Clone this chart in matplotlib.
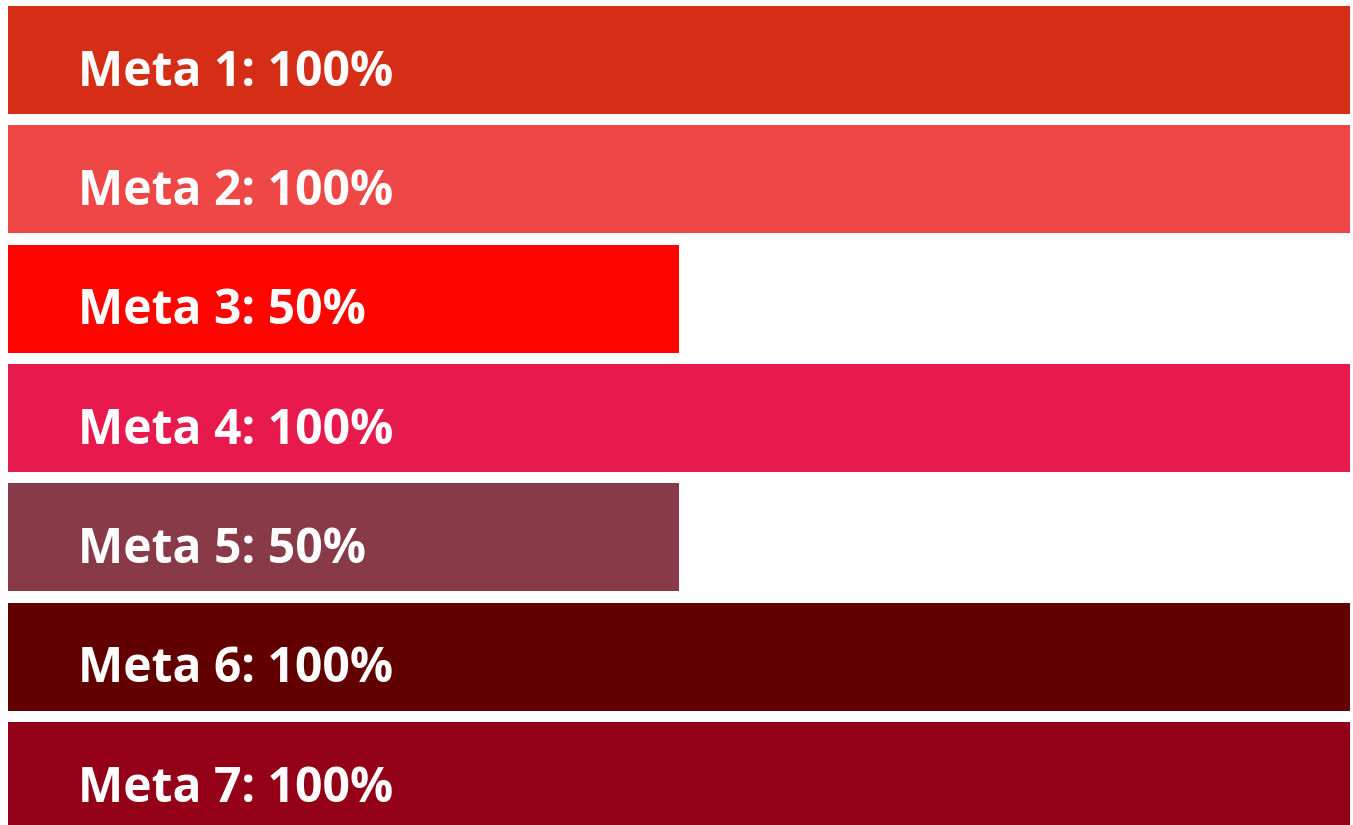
import matplotlib
matplotlib.use('Agg')
import matplotlib.pyplot as plt

# datos
metas = ['Meta 1', 'Meta 2', 'Meta 3', 'Meta 4', 'Meta 5', 'Meta 6', 'Meta 7']
progreso = [100, 100, 50, 100, 50, 100, 100]
colores = ['#D52D16', '#EF4646', '#FF0500', '#E8194D', '#883A48', '#620000', '#940018']

plt.rcParams['font.family'] = ['Open Sans', 'DejaVu Sans']

fig = plt.figure(figsize=(13.53, 8.25), dpi=100)
ax = fig.add_axes([0, 0, 1, 1])

y = list(range(len(metas)))
ax.barh(y, progreso, height=0.905, color=colores, left=0)

for i, (m, p) in enumerate(zip(metas, progreso)):
    ax.text(5.2, i + 0.215, f'{m}: {p}%', color='white', fontsize=34.6,
            fontweight='bold', ha='left', va='baseline')

ax.set_xlim(-0.596, 100.224)
ax.set_ylim(6.411, -0.503)
ax.axis('off')

fig.savefig('out.png', dpi=100, facecolor='white')
